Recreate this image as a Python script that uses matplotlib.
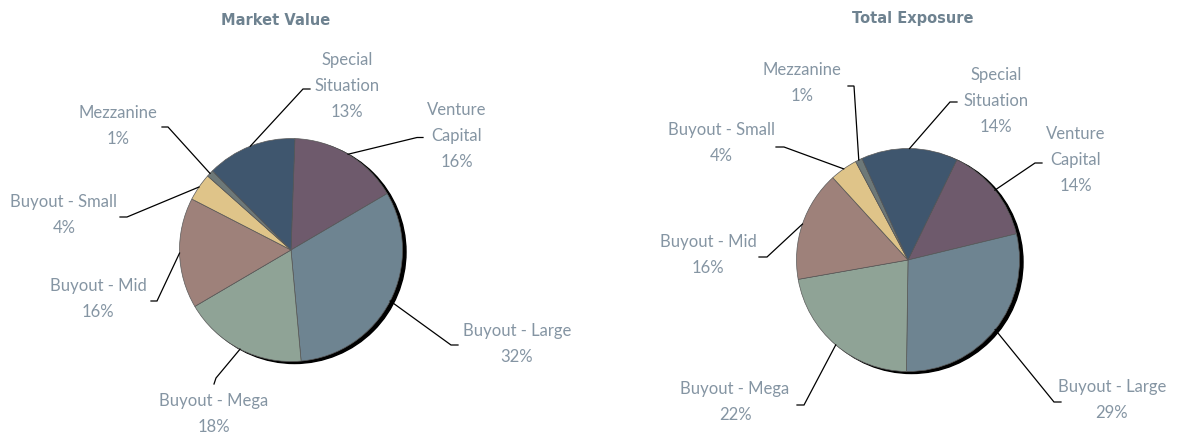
import numpy as np
import matplotlib.pyplot as plt
from matplotlib.patches import Circle

W, H = 1180, 436

# Data (clockwise from the first slice)
segments = ['Venture Capital', 'Buyout - Large', 'Buyout - Mega', 'Buyout - Mid',
            'Buyout - Small', 'Mezzanine', 'Special Situation']
seg_labels = ['Venture\nCapital', 'Buyout - Large', 'Buyout - Mega', 'Buyout - Mid',
              'Buyout - Small', 'Mezzanine', 'Special\nSituation']
seg_colors = ['#6E5A6C', '#6E8491', '#8FA396', '#9E817A',
              '#DFC489', '#6D7878', '#3F566E']
market_value = [16, 32, 18, 16, 4, 1, 13]
total_exposure = [14, 29, 22, 16, 4, 1, 14]

# Layout in pixels, y measured from the top of the image
mv_center, mv_start, mv_title = (291, 250), 88, (276, 21)
te_center, te_start, te_title = (908, 260), 64, (913, 19)
radius = 111.5

mv_text = [(457, 136), (517, 344), (214, 414), (98, 299), (64, 215), (118, 126), (347, 86)]
mv_elbow = [((417, 137.5), (423, 137.5)), ((451, 345), (458, 345)), ((216, 378), (214, 384)),
            ((157, 301), (151, 301)), ((127, 217), (120, 217)), ((168, 127), (162, 127)),
            ((303, 89), (310, 89))]
te_text = [(1076, 160), (1112, 400), (735, 402), (708, 255), (721, 143), (802, 83), (996, 101)]
te_elbow = [((1035, 163), (1042, 163)), ((1054, 402), (1061, 402)), ((804, 405), (797, 405)),
            ((767, 257), (759, 257)), ((784, 147), (776, 147)), ((854, 86), (848, 86)),
            ((950, 102), (957, 102))]

label_color = '#8595A3'
title_color = '#6E8290'
font = ['Lato', 'DejaVu Sans']

fig = plt.figure(figsize=(W / 100, H / 100), dpi=100)
ax = fig.add_axes([0, 0, 1, 1])


def draw_pie(values, center, start, title_xy, text_pos, elbows, title):
    cx, cy = center[0], H - center[1]
    # drop shadow
    ax.add_patch(Circle((cx + 3.5, cy - 2), radius, color='black', zorder=1))
    wedges, _ = ax.pie(values, colors=seg_colors, startangle=start, counterclock=False,
                       center=(cx, cy), radius=radius,
                       wedgeprops=dict(edgecolor='#5a5a5a', linewidth=0.5, zorder=2))
    for w, lab, v, tp, (el, tk) in zip(wedges, seg_labels, values, text_pos, elbows):
        w.set_zorder(2)
        ang = np.deg2rad((w.theta1 + w.theta2) / 2)
        axp = cx + radius * np.cos(ang)
        ayp = cy + radius * np.sin(ang)
        ax.plot([axp, el[0], tk[0]], [ayp, H - el[1], H - tk[1]],
                color='black', lw=0.9, zorder=3, solid_joinstyle='miter')
        ax.text(tp[0], H - tp[1], f'{lab}\n{v}%', ha='center', va='center',
                color=label_color, fontsize=12, family=font, linespacing=1.8)
    ax.text(title_xy[0], H - title_xy[1], title, ha='center', va='center',
            color=title_color, fontsize=10.5, fontweight='bold',
            family=['DejaVu Sans'])


draw_pie(market_value, mv_center, mv_start, mv_title, mv_text, mv_elbow, 'Market Value')
draw_pie(total_exposure, te_center, te_start, te_title, te_text, te_elbow, 'Total Exposure')

ax.set_xlim(0, W)
ax.set_ylim(0, H)
ax.set_aspect('equal')
ax.axis('off')

fig.savefig('out.png', dpi=100, facecolor='white')
